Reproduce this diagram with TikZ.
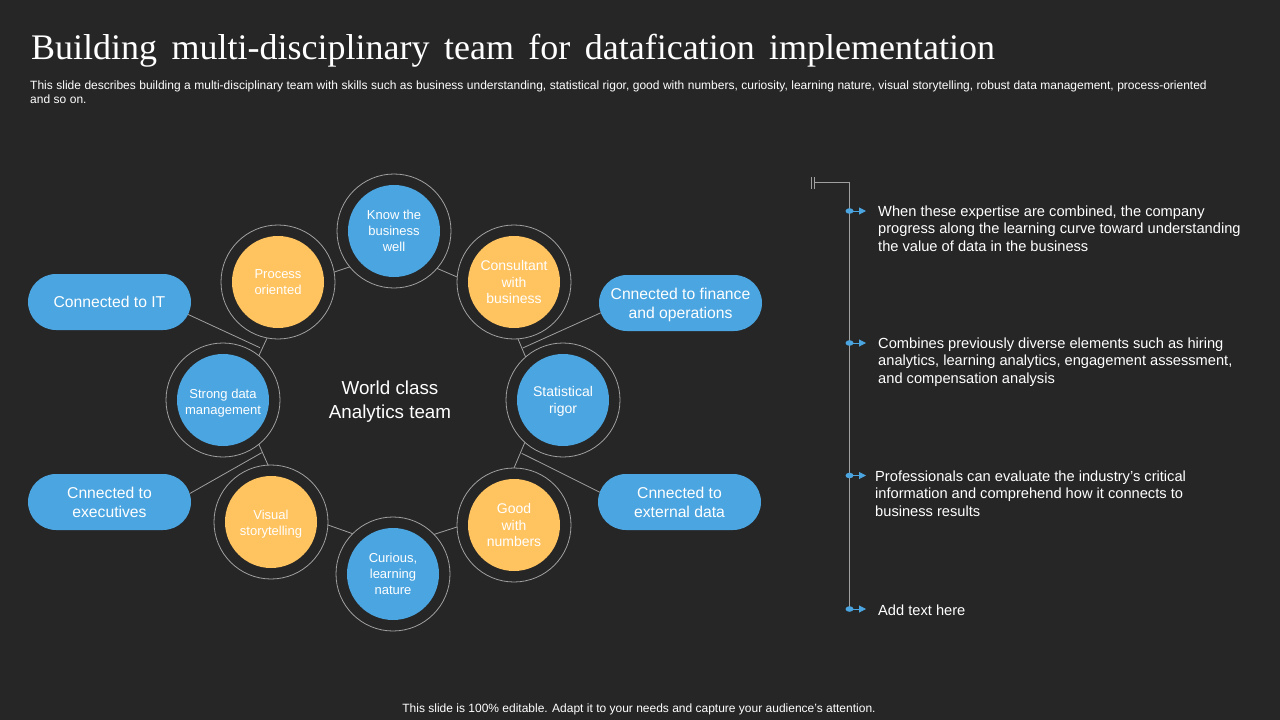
\documentclass[tikz,border=0pt]{standalone}
\usepackage{fontspec}
\setmainfont{Liberation Sans}
\newfontfamily\titlefont[WordSpace=1.6]{Liberation Serif}
\usetikzlibrary{shapes.misc,arrows.meta}
\definecolor{bgc}{HTML}{262626}
\definecolor{blu}{HTML}{4BA5E0}
\definecolor{org}{HTML}{FFC35F}
\definecolor{rng}{HTML}{A0A0A0}
\newcommand{\fs}[2]{\fontsize{#1}{#2}\selectfont}
\newcommand{\lowered}[3]{\raisebox{-#1}[\height][\depth]{\parbox{#2}{\centering #3}}}
\tikzset{
 ringnode/.style={circle,draw=rng,line width=0.8pt,minimum size=114pt,inner sep=0pt,outer sep=0pt},
 bluedisc/.style={circle,fill=blu,minimum size=92pt,inner sep=0pt,text=white,align=center,font=\fs{13}{16}},
 orgdisc/.style={circle,fill=org,minimum size=92pt,inner sep=0pt,text=white,align=center,font=\fs{13}{16}},
 pill/.style={rounded rectangle,fill=blu,minimum width=163pt,minimum height=56pt,inner sep=0pt,outer sep=0pt,text=white,align=center,font=\fs{15.7}{19}},
 link/.style={draw=rng,line width=0.8pt},
 bodytext/.style={text=white,align=left,anchor=north west,inner sep=0pt,font=\fs{14.65}{17.5}},
 tick/.style={draw=blu,line width=1pt,-{Triangle[length=7pt,width=7pt]}},
}
\begin{document}
\begin{tikzpicture}[x=1pt,y=-1pt]
\useasboundingbox[fill=bgc] (0,0) rectangle (1280,720);
\node[anchor=base west,inner sep=0pt,text=white,font=\titlefont\fs{36}{36}] (title) at (31,59) {Building multi-disciplinary team for datafication implementation};
\node[anchor=north west,inner sep=0pt,text=white,align=left,text width=1240pt,font=\fs{12}{14.4}] (sub) at (30,80.5) {\spaceskip=3.5pt\relax This slide describes building a multi-disciplinary team with skills such as business understanding, statistical rigor, good with numbers, curiosity, learning nature, visual storytelling, robust data management, process-oriented\\and so on.};
% rings
\foreach \n/\x/\y in {know/394/231,proc/278/282,cons/514/282,stat/563/400,good/514/525,curi/393/574,visu/271/522,stro/223/400}{
 \node[ringnode] (\n) at (\x,\y) {};
}
\node[bluedisc] (d1) at (know) {Know the\\business\\well};
\node[orgdisc] (d2) at (proc) {Process\\oriented};
\node[orgdisc,font=\fs{14}{16.5}] (d3) at (cons) {Consultant\\with\\business};
\node[bluedisc,font=\fs{14}{16.5}] (d4) at (stat) {\lowered{1.5pt}{76pt}{Statistical\\rigor}};
\node[orgdisc,font=\fs{14}{16.5}] (d5) at (good) {Good\\with\\numbers};
\node[bluedisc] (d6) at (curi) {Curious,\\learning\\nature};
\node[orgdisc] (d7) at (visu) {\lowered{2pt}{76pt}{Visual\\storytelling}};
\node[bluedisc] (d8) at (stro) {\lowered{3pt}{80pt}{Strong data\\management}};
\node[text=white,align=center,font=\fs{18.8}{23.5}] (center) at (390,401.7) {World class\\Analytics team};
% pills
\node[pill] (it) at (109.5,302) {Connected to IT};
\node[pill] (fin) at (680.5,303) {\lowered{1.5pt}{150pt}{Cnnected to finance\\and operations}};
\node[pill] (exe) at (109.5,502) {Cnnected to\\executives};
\node[pill] (ext) at (679.5,502) {Cnnected to\\external data};
% ring links
\draw[link] (proc.10) -- (know.219);
\draw[link] (know.-41) -- (cons.175);
\draw[link] (cons.-86) -- (stat.131);
\draw[link] (stat.-132) -- (good.90);
\draw[link] (good.182) -- (curi.44.5);
\draw[link] (curi.135.7) -- (visu.-3);
\draw[link] (visu.93) -- (stro.-51);
\draw[link] (stro.51) -- (proc.-101);
% junctions
\coordinate (jit) at (260,347.7);
\coordinate (jfin) at (522.7,348);
\coordinate (jexe) at (261.7,452.7);
\coordinate (jext) at (521.7,453.3);
\draw[link] (it.-9.3) -- (jit);
\draw[link] (fin.187.8) -- (jfin);
\draw[link] (exe.6) -- (jexe);
\draw[link] (ext.173.4) -- (jext);
% right timeline
\coordinate (tl0) at (811,182.5);
\coordinate (tl1) at (849.5,182.5);
\coordinate (tl2) at (849.5,609);
\coordinate (tc1) at (814.5,177);
\coordinate (tc2) at (814.5,189);
\coordinate (te1) at (811.5,177);
\coordinate (te2) at (811.5,189);
\draw[draw=rng,line width=0.8pt] (te1) -- (te2) (tc1) -- (tc2) (tc1 |- tl0) -- (tl1) -- (tl2);
\foreach \n/\y in {a/211,b/343,c/475.5,d/609}{
 \coordinate (\n0) at (849.5,\y);
 \coordinate (\n1) at (866,\y);
 \fill[blu] (\n0) ellipse (4pt and 2.8pt);
 \draw[tick] (\n0) -- (\n1);
}
\node[bodytext] (ta) at (878,205.5) {When these expertise are combined, the company\\progress along the learning curve toward understanding\\the value of data in the business};
\node[bodytext] (tb) at (878,337.5) {Combines previously diverse elements such as hiring\\analytics, learning analytics, engagement assessment,\\and compensation analysis};
\node[bodytext] (tc) at (875,470.5) {Professionals can evaluate the industry's critical\\information and comprehend how it connects to\\business results};
\node[bodytext] (td) at (878,605) {Add text here};
\node[text=white,inner sep=0pt,font=\fs{12}{14}] (foot) at (639,709) {This slide is 100\% editable. Adapt it to your needs and capture your audience's attention.};
\end{tikzpicture}
\end{document}
